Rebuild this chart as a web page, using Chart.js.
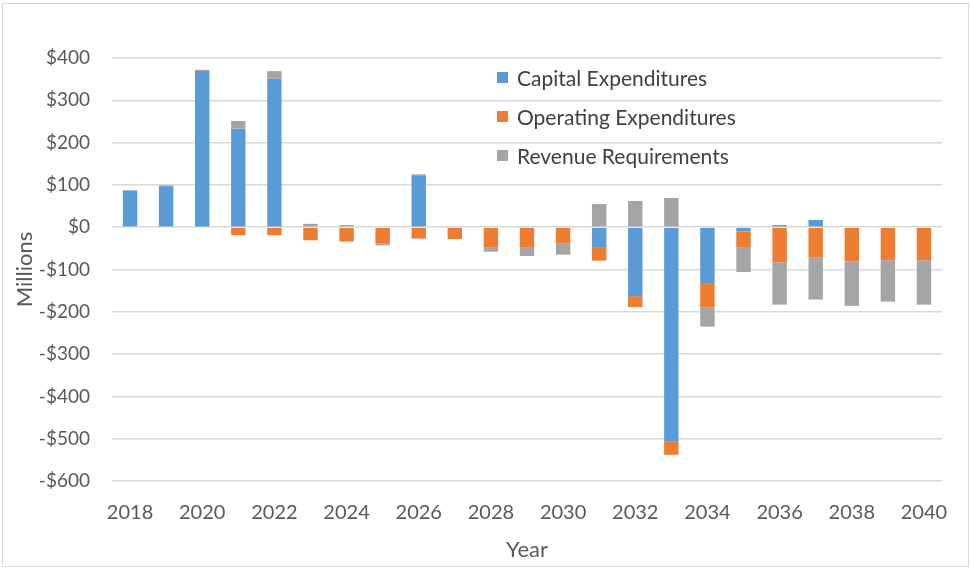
<!DOCTYPE html>
<html>
<head>
<meta charset="utf-8">
<script src="https://cdn.jsdelivr.net/npm/chart.js@4/dist/chart.umd.min.js"></script>
<style>
  html, body { margin: 0; padding: 0; background: #fff; }
  #wrap { position: relative; width: 970px; height: 569px; }
  #legend { position: absolute; left: 497px; top: 58px; font-family: Lato, "Open Sans", sans-serif; font-size: 21px; color: #404040; }
  .item { display: flex; align-items: center; height: 39px; }
  .sw { width: 11px; height: 11px; margin-right: 9px; }
</style>
</head>
<body>
<div id="wrap">
  <canvas id="c" width="970" height="569"></canvas>
  <div id="legend"></div>
</div>
<script>
const years = ["2018","2019","2020","2021","2022","2023","2024","2025","2026","2027","2028","2029","2030","2031","2032","2033","2034","2035","2036","2037","2038","2039","2040"];
const capitalExp   = [87, 97, 369, 233, 351, 0, -2, 0, 121, 0, -2, -2, -2, -47, -163, -507, -134, -10, 5, 17, 0, 0, 0];
const operatingExp = [0, 0, 0, -19, -19, -31, -32, -38, -27, -28, -45, -45, -36, -32, -26, -31, -55, -37, -83, -72, -81, -78, -78];
const revenueReq   = [0, 2, 3, 18, 18, 8, 5, -5, 4, 0, -11, -21, -27, 55, 62, 69, -46, -59, -100, -99, -105, -98, -105];
const seriesNames  = ["Capital Expenditures", "Operating Expenditures", "Revenue Requirements"];
const colors = ["#5B9BD5", "#ED7D31", "#A5A5A5"];

const FONT = "Lato, 'Open Sans', sans-serif";
const borderPlugin = {
  id: 'outerBorder',
  beforeDraw(chart) {
    const ctx = chart.ctx;
    ctx.save();
    ctx.strokeStyle = '#d9d9d9';
    ctx.lineWidth = 1;
    ctx.strokeRect(2.5, 3.5, 966, 563);
    ctx.restore();
  }
};

const datasets = [capitalExp, operatingExp, revenueReq].map((d, i) => ({
  label: seriesNames[i],
  data: d,
  backgroundColor: colors[i],
  borderWidth: 0,
  barPercentage: 0.4,
  categoryPercentage: 1.0
}));

new Chart(document.getElementById('c'), {
  type: 'bar',
  data: { labels: years, datasets },
  plugins: [borderPlugin],
  options: {
    responsive: false,
    animation: false,
    layout: { padding: { left: 0, right: 28, top: 58, bottom: 0 } },
    plugins: { legend: { display: false }, tooltip: { enabled: false } },
    scales: {
      x: {
        stacked: true,
        grid: { display: false, drawTicks: false },
        border: { display: false },
        ticks: {
          autoSkip: false, maxRotation: 0, padding: 20,
          color: '#595959', font: { family: FONT, size: 20 },
          callback: function(v, i) { return i % 2 === 0 ? this.getLabelForValue(v) : ''; }
        },
        title: { display: true, text: 'Year', color: '#595959', font: { family: FONT, size: 22 }, padding: { top: 0, bottom: 6 } },
        afterFit(s) { s.height = 88; }
      },
      y: {
        stacked: true,
        min: -600, max: 400,
        grid: { color: '#d9d9d9', lineWidth: 1.5, drawTicks: false },
        border: { display: false },
        ticks: {
          stepSize: 100, padding: 22,
          color: '#595959', font: { family: FONT, size: 19 },
          callback: v => (v < 0 ? '-$' + Math.abs(v) : '$' + v)
        },
        title: { display: true, text: 'Millions', color: '#595959', font: { family: FONT, size: 22 }, padding: { top: 12, bottom: 0 } },
        afterFit(s) { s.width = 112; }
      }
    }
  }
});

const lg = document.getElementById('legend');
seriesNames.forEach((n, i) => {
  const it = document.createElement('div');
  it.className = 'item';
  const sw = document.createElement('span');
  sw.className = 'sw';
  sw.style.background = colors[i];
  const tx = document.createElement('span');
  tx.textContent = n;
  it.appendChild(sw); it.appendChild(tx);
  lg.appendChild(it);
});
</script>
</body>
</html>
